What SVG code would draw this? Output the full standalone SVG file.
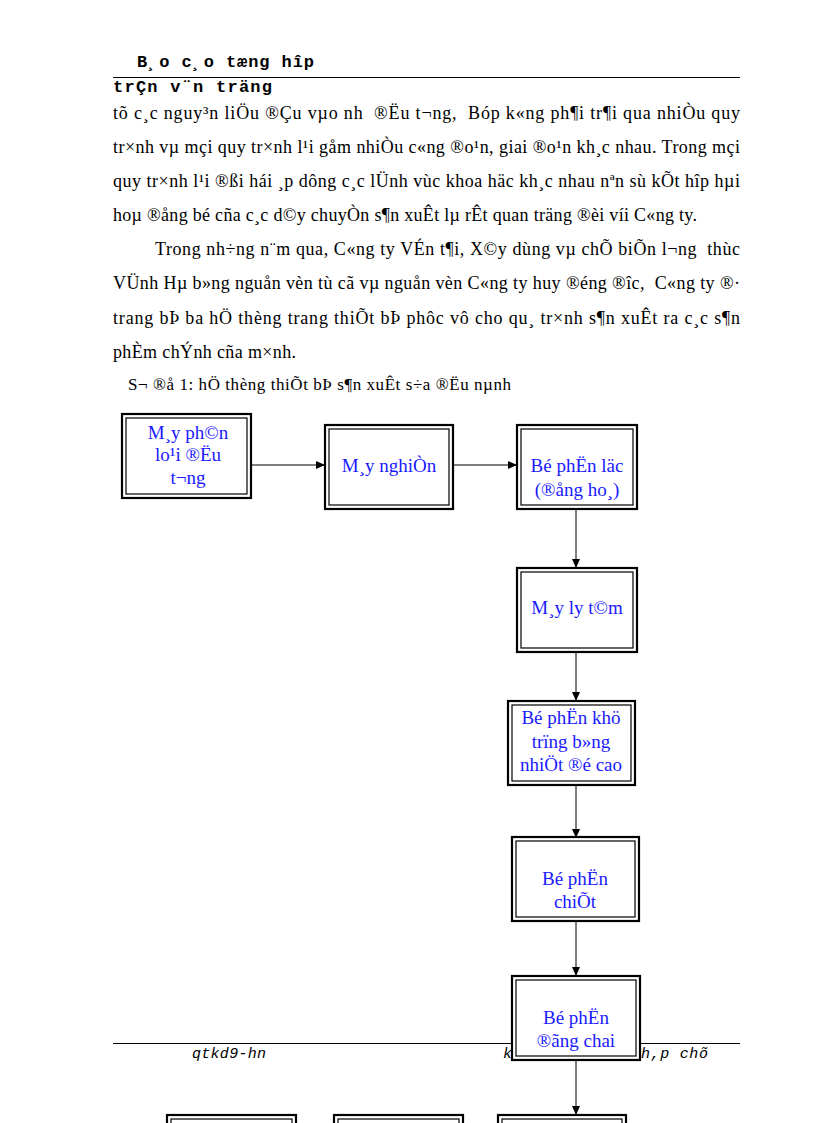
<svg xmlns="http://www.w3.org/2000/svg" width="816" height="1123" viewBox="0 0 816 1123">
<defs>
<style>
.body{font-family:"Liberation Serif","Times New Roman",serif;font-size:18px;fill:#000}
.cap{font-family:"Liberation Serif","Times New Roman",serif;font-size:17px;fill:#000}
.mono{font-family:"Liberation Mono","Courier New",monospace;font-size:17px;font-weight:bold;fill:#000}
.foot{font-family:"Liberation Mono","Courier New",monospace;font-size:15px;font-style:italic;fill:#000}
.rule{stroke:#000;stroke-width:1}
.outer{fill:#fff;stroke:#000;stroke-width:2.2}
.inner{fill:none;stroke:#000;stroke-width:1.2}
.lbl{font-family:"Liberation Serif","Times New Roman",serif;font-size:19px;fill:#1a1aff;text-anchor:middle}
.conn{stroke:#000;stroke-width:1;fill:none;marker-end:url(#arr)}
</style>
<marker id="arr" markerWidth="10" markerHeight="10" refX="9" refY="5" orient="auto" markerUnits="userSpaceOnUse">
<path d="M0,1 L9,5 L0,9 Z" fill="#000"/>
</marker>
</defs>
<rect width="816" height="1123" fill="#fff"/>
<!-- header -->
<text class="mono" x="137" y="67" textLength="177" lengthAdjust="spacing">B¸o c¸o tæng hîp</text>
<line class="rule" x1="113" y1="77.5" x2="740" y2="77.5"/>
<text class="mono" x="113" y="92" textLength="159" lengthAdjust="spacing">trÇn v¨n träng</text>
<!-- body -->
<text class="body" x="113" y="119" textLength="627" lengthAdjust="spacing" xml:space="preserve">tõ c¸c nguy³n liÖu ®Çu vµo nh  ®Ëu t¬ng,  Bóp k«ng ph¶i tr¶i qua nhiÒu quy</text>
<text class="body" x="113" y="153" textLength="627" lengthAdjust="spacing">tr×nh vµ mçi quy tr×nh l¹i gåm nhiÒu c«ng ®o¹n, giai ®o¹n kh¸c nhau. Trong mçi</text>
<text class="body" x="113" y="187" textLength="627" lengthAdjust="spacing">quy tr×nh l¹i ®ßi hái ¸p dông c¸c lÜnh vùc khoa häc kh¸c nhau nªn sù kÕt hîp hµi</text>
<text class="body" x="113" y="221" textLength="584" lengthAdjust="spacing">hoµ ®ång bé cña c¸c d©y chuyÒn s¶n xuÊt lµ rÊt quan träng ®èi víi C«ng ty.</text>
<text class="body" x="155" y="255" textLength="585" lengthAdjust="spacing" xml:space="preserve">Trong nh÷ng n¨m qua, C«ng ty VÉn t¶i, X©y dùng vµ chÕ biÕn l¬ng  thùc</text>
<text class="body" x="113" y="289" textLength="627" lengthAdjust="spacing" xml:space="preserve">VÜnh Hµ b»ng nguån vèn tù cã vµ nguån vèn C«ng ty huy ®éng ®îc,  C«ng ty ®·</text>
<text class="body" x="113" y="324" textLength="627" lengthAdjust="spacing">trang bÞ ba hÖ thèng trang thiÕt bÞ phôc vô cho qu¸ tr×nh s¶n xuÊt ra c¸c s¶n</text>
<text class="body" x="113" y="358" textLength="183" lengthAdjust="spacing">phÈm chÝnh cña m×nh.</text>
<text class="cap" x="128" y="390" textLength="383" lengthAdjust="spacing">S¬ ®å 1: hÖ thèng thiÕt bÞ s¶n xuÊt s÷a ®Ëu nµnh</text>
<!-- footer -->
<line class="rule" x1="113" y1="1043.5" x2="740" y2="1043.5"/>
<text class="foot" x="192" y="1058" textLength="74" lengthAdjust="spacing">qtkd9-hn</text>
<text class="foot" x="503" y="1058">k</text>
<text class="foot" x="641" y="1058" textLength="67" lengthAdjust="spacing">h,p chõ</text>
<!-- connectors -->
<g id="connectors">
<line class="conn" x1="251" y1="465" x2="325" y2="465"/>
<line class="conn" x1="453" y1="465" x2="517" y2="465"/>
<line class="conn" x1="576" y1="509" x2="576" y2="568"/>
<line class="conn" x1="576" y1="652" x2="576" y2="701"/>
<line class="conn" x1="576" y1="785" x2="576" y2="838"/>
<line class="conn" x1="576" y1="920" x2="576" y2="976"/>
<line class="conn" x1="576" y1="1060" x2="576" y2="1115"/>
</g>
<!-- nodes -->
<g id="node1">
<rect class="outer" x="122" y="414" width="129" height="84"/>
<rect class="inner" x="126" y="418" width="121" height="76"/>
<text class="lbl" x="188" y="439">M¸y ph©n</text>
<text class="lbl" x="188" y="461">lo¹i ®Ëu</text>
<text class="lbl" x="188" y="484">t¬ng</text>
</g>
<g id="node2">
<rect class="outer" x="325" y="425" width="128" height="84"/>
<rect class="inner" x="329" y="429" width="120" height="76"/>
<text class="lbl" x="389" y="472">M¸y nghiÒn</text>
</g>
<g id="node3">
<rect class="outer" x="517" y="425" width="120" height="84"/>
<rect class="inner" x="521" y="429" width="112" height="76"/>
<text class="lbl" x="577" y="472">Bé phËn läc</text>
<text class="lbl" x="577" y="496">(®ång ho¸)</text>
</g>
<g id="node4">
<rect class="outer" x="517" y="568" width="120" height="84"/>
<rect class="inner" x="521" y="572" width="112" height="76"/>
<text class="lbl" x="577" y="614">M¸y ly t©m</text>
</g>
<g id="node5">
<rect class="outer" x="508" y="701" width="127" height="84"/>
<rect class="inner" x="512" y="705" width="119" height="76"/>
<text class="lbl" x="571" y="724">Bé phËn khö</text>
<text class="lbl" x="571" y="748">trïng b»ng</text>
<text class="lbl" x="571" y="771">nhiÖt ®é cao</text>
</g>
<g id="node6">
<rect class="outer" x="512" y="837" width="127" height="84"/>
<rect class="inner" x="516" y="841" width="119" height="76"/>
<text class="lbl" x="575" y="885">Bé phËn</text>
<text class="lbl" x="575" y="908">chiÕt</text>
</g>
<g id="node7">
<rect class="outer" x="512" y="976" width="128" height="84"/>
<rect class="inner" x="516" y="980" width="120" height="76"/>
<text class="lbl" x="576" y="1024">Bé phËn</text>
<text class="lbl" x="576" y="1047">®ãng chai</text>
</g>
<g id="node8">
<rect class="outer" x="167" y="1115" width="129" height="84"/>
<rect class="inner" x="171" y="1119" width="121" height="76"/>
</g>
<g id="node9">
<rect class="outer" x="334" y="1115" width="129" height="84"/>
<rect class="inner" x="338" y="1119" width="121" height="76"/>
</g>
<g id="node10">
<rect class="outer" x="498" y="1115" width="128" height="84"/>
<rect class="inner" x="502" y="1119" width="120" height="76"/>
</g>
</svg>
